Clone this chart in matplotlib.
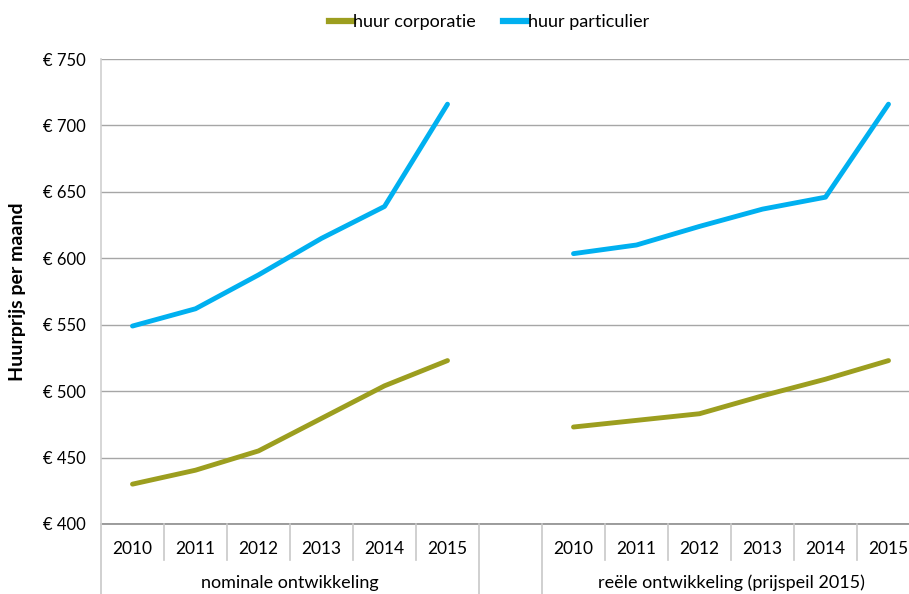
import matplotlib.pyplot as plt
from matplotlib.lines import Line2D

plt.rcParams['font.family'] = ['Lato', 'DejaVu Sans']

years = ['2010', '2011', '2012', '2013', '2014', '2015']
groups = ['nominale ontwikkeling', 'reële ontwikkeling (prijspeil 2015)']

# nominale ontwikkeling
corp_nominaal = [430, 440.5, 455, 479.5, 504, 523]
part_nominaal = [549, 562, 587.5, 615, 639, 716]
# reële ontwikkeling (prijspeil 2015)
corp_reeel = [473, 478, 483, 496.5, 509, 523]
part_reeel = [603.5, 610, 624, 637, 646, 716]

yticks = [400, 450, 500, 550, 600, 650, 700, 750]

green = '#9C9E1F'
blue = '#00B0F0'

fig = plt.figure(figsize=(9.09, 5.94), dpi=100)
ax = fig.add_axes([101 / 909, 70 / 594, 808 / 909, 465 / 594])

# 13 categorieen: 6 jaren, lege kolom, 6 jaren
n = len(years)
x_nom = list(range(n))
x_reeel = list(range(n + 1, 2 * n + 1))

ax.plot(x_nom, corp_nominaal, color=green, lw=3.5, solid_capstyle='round', zorder=3)
ax.plot(x_nom, part_nominaal, color=blue, lw=3.5, solid_capstyle='round', zorder=3)
ax.plot(x_reeel, corp_reeel, color=green, lw=3.5, solid_capstyle='round', zorder=3)
ax.plot(x_reeel, part_reeel, color=blue, lw=3.5, solid_capstyle='round', zorder=3)

ax.set_xlim(-0.5, -0.5 + 808 / 63)
ax.set_ylim(400, 750)
ax.set_yticks(yticks)
ax.set_yticklabels(['€ %d' % v for v in yticks], fontsize=12)
ax.tick_params(axis='y', length=0, pad=11)
ax.set_xticks([])
ax.grid(axis='y', color='#a6a6a6', lw=1)
ax.set_axisbelow(True)

for s in ['top', 'right', 'bottom']:
    ax.spines[s].set_visible(False)
ax.spines['left'].set_color('#d0d0d0')
ax.spines['left'].set_linewidth(1.2)
ax.spines['left'].set_bounds(400, 750)

# horizontale as
ax.plot([-0.5, 12.5], [400, 400], color='#8c8c8c', lw=1.2, clip_on=False, zorder=2)

tr = ax.get_xaxis_transform()
# labels jaren en scheidingen
for xs in [x_nom, x_reeel]:
    for i, x in enumerate(xs):
        ax.text(x, -0.054, years[i], transform=tr, ha='center', va='center', fontsize=12.5)
        if i > 0:
            ax.add_line(Line2D([x - 0.5, x - 0.5], [0, -0.0774], transform=tr,
                               color='#c8c8c8', lw=1.2, clip_on=False))
# groepsscheidingen
for xb in [-0.5, n - 0.5, n + 0.5, 2 * n + 0.5]:
    ax.add_line(Line2D([xb, xb], [0, -0.16], transform=tr,
                       color='#c8c8c8', lw=1.2, clip_on=False))
ax.text((n - 1) / 2, -0.127, groups[0], transform=tr, ha='center', va='center', fontsize=13)
ax.text(n + 1 + (n - 1) / 2, -0.127, groups[1], transform=tr, ha='center', va='center', fontsize=13)

ax.set_ylabel('Huurprijs per maand', fontsize=14, fontweight='bold', labelpad=12)

handles = [Line2D([], [], color=green, lw=4.5), Line2D([], [], color=blue, lw=4.5)]
fig.legend(handles, ['huur corporatie', 'huur particulier'], loc='center',
           bbox_to_anchor=(489 / 909, 1 - 22 / 594), ncol=2, frameon=False,
           fontsize=13, handlelength=1.3, handletextpad=0.05, columnspacing=1.5)

fig.savefig('out.png', dpi=100)
